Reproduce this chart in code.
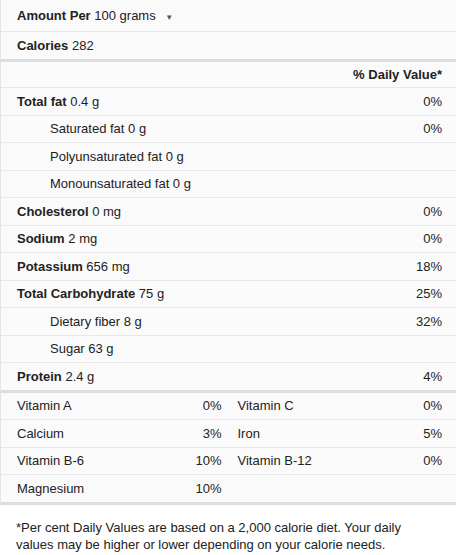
<!DOCTYPE html>
<html>
<head>
<meta charset="utf-8">
<script src="https://cdn.jsdelivr.net/npm/chart.js"></script>
<style>
body { margin: 0; background: #fff; font-family: Arial, "Liberation Sans", sans-serif; font-size: 13px; color: #222; }
#wrap { width: 456px; background: #fafafa; border-left: 1px solid #e4e4e4; box-sizing: border-box; }
.row { box-sizing: border-box; height: 27.5px; border-bottom: 1px solid #e8e8e8; display: flex; align-items: center; padding: 0 14px 0 16px; }
.row .l { flex: 1; }
.row .r { text-align: right; }
.ind { padding-left: 49px; }
.thick { border-bottom: 3px solid #ddd; }
b { font-weight: bold; }
.half { flex: 1; display: flex; }
.half .l { flex: 1; }
.half .r { text-align: right; }
#foot { background: #fff; padding: 14px 16px; line-height: 17px; height: 53px; box-sizing: border-box; }
</style>
</head>
<body>
<div id="wrap"></div>
<div id="foot">*Per cent Daily Values are based on a 2,000 calorie diet. Your daily values may be higher or lower depending on your calorie needs.</div>
<script>
const nutrients = ['Total fat', 'Saturated fat', 'Polyunsaturated fat', 'Monounsaturated fat', 'Cholesterol', 'Sodium', 'Potassium', 'Total Carbohydrate', 'Dietary fiber', 'Sugar', 'Protein'];
const amounts = ['0.4 g', '0 g', '0 g', '0 g', '0 mg', '2 mg', '656 mg', '75 g', '8 g', '63 g', '2.4 g'];
const daily = ['0%', '0%', '', '', '0%', '0%', '18%', '25%', '32%', '', '4%'];
const indented = [false, true, true, true, false, false, false, false, true, true, false];
const vitamins = ['Vitamin A', 'Vitamin C', 'Calcium', 'Iron', 'Vitamin B-6', 'Vitamin B-12', 'Magnesium'];
const vitaminPct = ['0%', '0%', '3%', '5%', '10%', '0%', '10%'];

const wrap = document.getElementById('wrap');
let h = '';
h += '<div class="row" style="height:32px"><span class="l"><b>Amount Per</b> 100 grams <span style="font-size:8px;color:#555;margin-left:6px">&#9660;</span></span></div>';
h += '<div class="row thick" style="height:30px"><span class="l"><b>Calories</b> 282</span></div>';
h += '<div class="row" style="height:26px"><span class="l"></span><span class="r"><b>% Daily Value*</b></span></div>';
nutrients.forEach((n, i) => {
    let cls = 'row' + (i == nutrients.length - 1 ? ' thick' : '');
    let name = indented[i] ? n + ' ' + amounts[i] : '<b>' + n + '</b> ' + amounts[i];
    h += '<div class="' + cls + '"' + (i == nutrients.length - 1 ? ' style="height:29.5px"' : '') + '><span class="l' + (indented[i] ? ' ind' : '') + '" style="' + (indented[i] ? 'padding-left:33px' : '') + '">' + name + '</span><span class="r">' + daily[i] + '</span></div>';
});
for (let i = 0; i < vitamins.length; i += 2) {
    let last = i + 2 >= vitamins.length;
    h += '<div class="row' + (last ? ' thick' : '') + '"' + (last ? ' style="height:29.5px"' : '') + '>';
    h += '<div class="half" style="margin-right:16px"><span class="l">' + vitamins[i] + '</span><span class="r">' + vitaminPct[i] + '</span></div>';
    h += '<div class="half">' + (vitamins[i + 1] ? '<span class="l">' + vitamins[i + 1] + '</span><span class="r">' + vitaminPct[i + 1] + '</span>' : '') + '</div>';
    h += '</div>';
}
wrap.innerHTML = h;
</script>
</body>
</html>
